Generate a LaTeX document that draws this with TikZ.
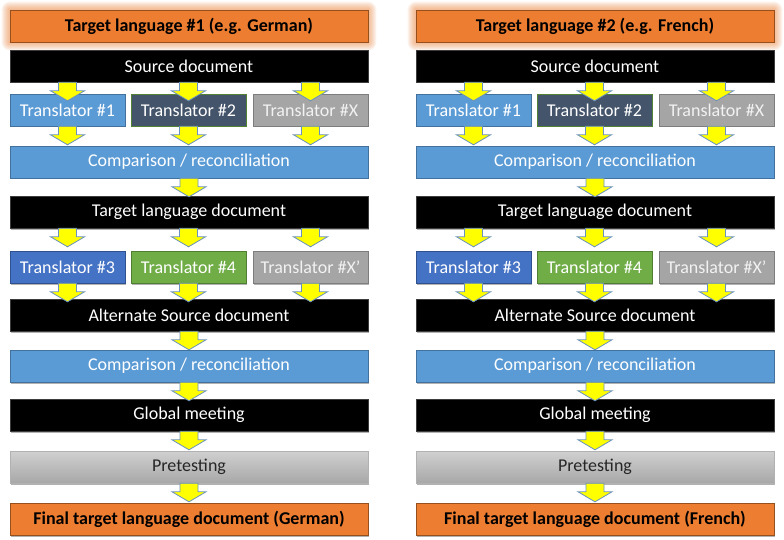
\documentclass[tikz,border=0pt]{standalone}
\usepackage{fontspec}
\setmainfont{Carlito}
\usetikzlibrary{calc,shadows,backgrounds}
\definecolor{orF}{RGB}{237,125,49}
\definecolor{orD}{RGB}{150,80,30}
\definecolor{blF}{RGB}{91,155,213}
\definecolor{blD}{RGB}{65,113,156}
\definecolor{slF}{RGB}{68,84,106}
\definecolor{slD}{RGB}{84,130,53}
\definecolor{grF}{RGB}{165,165,165}
\definecolor{grD}{RGB}{125,125,125}
\definecolor{b3F}{RGB}{68,114,196}
\definecolor{b3D}{RGB}{47,82,143}
\definecolor{gnF}{RGB}{112,173,71}
\definecolor{gnD}{RGB}{80,126,50}
\definecolor{bkD}{RGB}{60,60,60}
\definecolor{yelF}{RGB}{255,255,0}
\definecolor{yelD}{RGB}{105,145,190}
\definecolor{ptT}{RGB}{208,208,208}
\definecolor{ptB}{RGB}{168,168,168}
\tikzset{
  box/.style={rectangle,minimum height=32pt,inner sep=0pt,text=white,line width=0.6pt,
    font=\fontsize{18}{21}\selectfont,
    drop shadow={shadow xshift=1.2pt,shadow yshift=-1.5pt,opacity=0.3,fill=black}},
  wide/.style={box,minimum width=358pt},
  trans/.style={box,minimum width=115pt},
  orangebox/.style={wide,fill=orF,draw=orD,text=black,font=\fontsize{18}{21}\selectfont\bfseries},
  blackbox/.style={wide,fill=black,draw=bkD},
  bluebox/.style={fill=blF,draw=blD},
  slatebox/.style={fill=slF,draw=slD},
  graybox/.style={fill=grF,draw=grD,text=white!95!black},
  bluethree/.style={fill=b3F,draw=b3D},
  greenbox/.style={fill=gnF,draw=gnD},
  pretestbox/.style={wide,top color=ptT,bottom color=ptB,draw=ptB!90!white,text=black!85},
  yarrow/.style={fill=yelF,draw=yelD,line width=0.8pt,line join=miter}
}
\newcommand\yarr[2]{\path[yarrow] let \p1=#1, \p2=#2 in
  (\x2-9pt,\y1) -- (\x2-9pt,\y1-8.5pt) -- (\x2-17pt,\y1-8.5pt) -- (\x2,\y1-18.5pt)
  -- (\x2+17pt,\y1-8.5pt) -- (\x2+9pt,\y1-8.5pt) -- (\x2+9pt,\y1) -- cycle;}
\begin{document}
\begin{tikzpicture}[x=1pt,y=-1pt]
\useasboundingbox (0,0) rectangle (784,540);
\begin{scope}[on background layer]
  \fill[white] (0,0) rectangle (784,540);
\end{scope}
\foreach \k/\dx/\lang in {1/0/German,2/406/French}{
\begin{scope}[xshift=\dx pt]
  \node[orangebox,drop shadow={opacity=0}] (title\k) at (189,26) {Target language \#\k\ (e.g. \lang)};
  \begin{scope}[on background layer]
    \foreach \g in {1,...,8}
      \fill[orF,opacity=0.08,rounded corners=\g pt] ([shift={(-\g pt,\g pt)}]title\k.north west) rectangle ([shift={(\g pt,-\g pt)}]title\k.south east);
  \end{scope}
  \node[blackbox] (src\k) at (189,66) {Source document};
  \node[trans,bluebox] (ta\k) at (67.5,110) {Translator \#1};
  \node[trans,slatebox] (tb\k) at (188.5,110) {Translator \#2};
  \node[trans,graybox] (tx\k) at (310.5,110) {Translator \#X};
  \node[wide,bluebox] (cmpa\k) at (189,162) {Comparison / reconciliation};
  \node[blackbox] (tgt\k) at (189,212) {Target language document};
  \node[trans,bluethree] (tc\k) at (67.5,267) {Translator \#3};
  \node[trans,greenbox] (td\k) at (188.5,267) {Translator \#4};
  \node[trans,graybox] (ty\k) at (310.5,267) {Translator \#X’};
  \node[blackbox] (alt\k) at (189,315) {Alternate Source document};
  \node[wide,bluebox] (cmpb\k) at (189,366) {Comparison / reconciliation};
  \node[blackbox] (glob\k) at (189,415) {Global meeting};
  \node[pretestbox] (pre\k) at (189,467) {Pretesting};
  \node[orangebox] (fin\k) at (189,519) {Final target language document (\lang)};
  % arrows
  \yarr{(ta\k.north |- src\k.south)}{(ta\k.north)}
  \yarr{(tb\k.north |- src\k.south)}{(tb\k.north)}
  \yarr{(tx\k.north |- src\k.south)}{(tx\k.north)}
  \yarr{(ta\k.south)}{(ta\k.south |- cmpa\k.north)}
  \yarr{(tb\k.south)}{(tb\k.south |- cmpa\k.north)}
  \yarr{(tx\k.south)}{(tx\k.south |- cmpa\k.north)}
  \yarr{(cmpa\k.south)}{(tgt\k.north)}
  \yarr{(tc\k.north |- tgt\k.south)}{(tc\k.north)}
  \yarr{(td\k.north |- tgt\k.south)}{(td\k.north)}
  \yarr{(ty\k.north |- tgt\k.south)}{(ty\k.north)}
  \yarr{(tc\k.south)}{(tc\k.south |- alt\k.north)}
  \yarr{(td\k.south)}{(td\k.south |- alt\k.north)}
  \yarr{(ty\k.south)}{(ty\k.south |- alt\k.north)}
  \yarr{(alt\k.south)}{(cmpb\k.north)}
  \yarr{(cmpb\k.south)}{(glob\k.north)}
  \yarr{(glob\k.south)}{(pre\k.north)}
  \yarr{(pre\k.south)}{(fin\k.north)}
\end{scope}
}
\end{tikzpicture}
\end{document}
